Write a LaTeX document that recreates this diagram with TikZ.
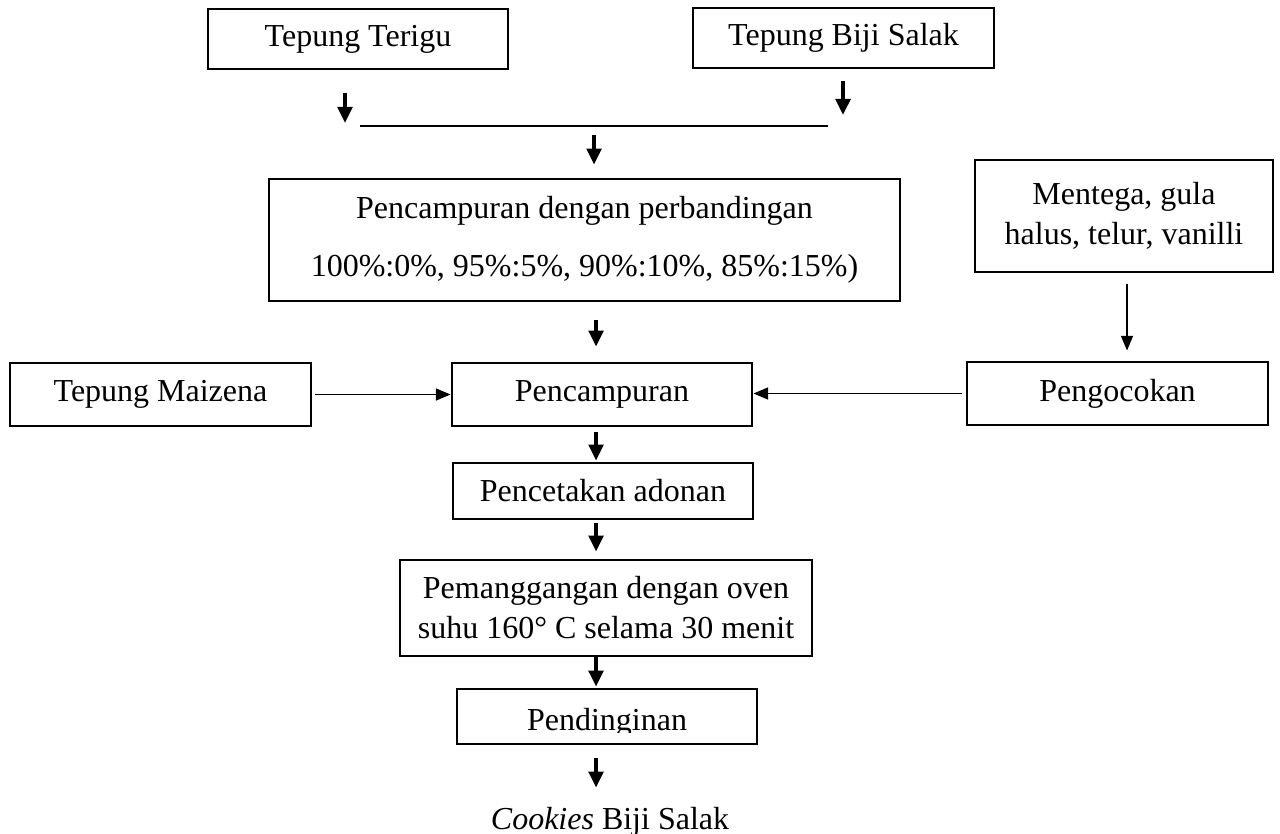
\documentclass[tikz,border=0pt]{standalone}
\usepackage{fontspec}
\setmainfont{Liberation Serif}
\usetikzlibrary{arrows.meta}
\begin{document}
\begin{tikzpicture}[x=0.75pt,y=-0.75pt,
  txt/.style={font=\fontsize{24}{30}\selectfont},
  box/.style={draw, line width=2.2pt, inner sep=0pt, align=center, txt},
  wh/.style 2 args={minimum width=#1*0.75pt, minimum height=#2*0.75pt},
  bigarrow/.style={line width=2.6pt, -{Triangle[width=11pt,length=12pt]}},
  thinarrow/.style={line width=1.1pt, -{Triangle[width=9pt,length=11pt]}},
  thinline/.style={line width=1.1pt}]
\useasboundingbox (0,0) rectangle (1280,834);

% boxes
\node[box, wh={300}{60}] (terigu) at (358,39) {Tepung Terigu};
\node[box, wh={301}{60}] (salak) at (843.5,38) {Tepung Biji Salak};
\node[box, wh={631}{122}, font=\fontsize{24}{43.5}\selectfont] (mix) at (584.5,240)
  {Pencampuran dengan perbandingan\\100\%:0\%, 95\%:5\%, 90\%:10\%, 85\%:15\%)};
\node[box, wh={298}{112}] (ment) at (1124,216) {Mentega, gula\\halus, telur, vanilli};
\node[box, wh={301}{63}] (maiz) at (160.5,394.5) {Tepung Maizena};
\node[box, wh={300}{63}] (pc) at (602,394.5) {Pencampuran};
\node[box, wh={301}{63}] (peng) at (1117.5,393.5) {Pengocokan};
\node[box, wh={300}{56}] (pcetak) at (603,491) {Pencetakan adonan};
\node[box, wh={412}{96}] (oven) at (606,608) {Pemanggangan dengan oven\\suhu 160° C selama 30 menit};
\node[box, wh={300}{55}] (dingin) at (607,716.5) {};
\begin{scope}
  \clip (457,689) rectangle (757,732);
  \node[txt, inner sep=0pt, anchor=base] (dingintext) at (607,730) {Pendinginan};
\end{scope}
\node[txt, inner sep=0pt, anchor=base] (cookies) at (610,829) {\textit{Cookies} Biji Salak};

% coordinates for the joining line
\coordinate (a1) at (345,126);
\coordinate (a2) at (843,126);
\coordinate (jl) at (360,126);
\coordinate (jr) at (828,126);
\coordinate (jm) at (594,126);
\coordinate (col) at (596,0);

% connectors
\draw[bigarrow, shorten <=17.25pt, shorten >=2.25pt] (terigu.south -| a1) -- (a1);
\draw[bigarrow, shorten <=9pt, shorten >=8.25pt] (salak.south -| a2) -- (a2);
\draw[thinline] (jl) -- (jr);
\draw[bigarrow, shorten <=6.75pt, shorten >=9.75pt] (jm) -- (mix.north -| jm);
\draw[bigarrow, shorten <=13.5pt, shorten >=11.25pt] (mix.south -| col) -- (pc.north -| col);
\draw[thinarrow, shorten <=8.25pt, shorten >=7.5pt] ([xshift=2.25pt]ment.south) -- ([xshift=2.25pt]ment.south |- peng.north);
\draw[thinarrow, shorten <=2.25pt] (maiz.east) -- (maiz.east -| pc.west);
\draw[thinarrow, shorten <=3pt] (peng.west) -- (peng.west -| pc.east);
\draw[bigarrow, shorten <=3.75pt, shorten >=0.75pt] (pc.south -| col) -- (pcetak.north -| col);
\draw[bigarrow, shorten <=2.25pt, shorten >=5.25pt] (pcetak.south -| col) -- (oven.north -| col);
\draw[bigarrow, shorten >=0.75pt] (oven.south -| col) -- (dingin.north -| col);
\draw[bigarrow, shorten <=9.75pt, shorten >=14.25pt] (dingin.south -| col) -- (cookies.north -| col);
\end{tikzpicture}
\end{document}
